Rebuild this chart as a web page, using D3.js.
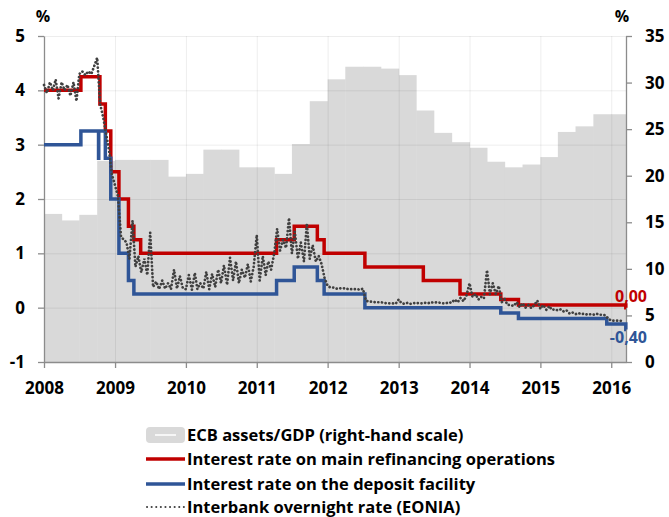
<!DOCTYPE html>
<html>
<head>
<meta charset="utf-8">
<script src="https://cdn.jsdelivr.net/npm/d3@7/dist/d3.min.js"></script>
<style>
    body { margin: 0; background: #fff; }
    svg text { font-family: "Open Sans", Lato, sans-serif; font-weight: bold; fill: #000; }
</style>
</head>
<body>
<div class="chart"></div>
<script>
// ECB assets / GDP, quarterly, 2008Q1 .. 2016Q1 (right-hand scale, %)
var assetQuarters = ["2008-01-01", "2008-04-01", "2008-07-01", "2008-10-01",
    "2009-01-01", "2009-04-01", "2009-07-01", "2009-10-01",
    "2010-01-01", "2010-04-01", "2010-07-01", "2010-10-01",
    "2011-01-01", "2011-04-01", "2011-07-01", "2011-10-01",
    "2012-01-01", "2012-04-01", "2012-07-01", "2012-10-01",
    "2013-01-01", "2013-04-01", "2013-07-01", "2013-10-01",
    "2014-01-01", "2014-04-01", "2014-07-01", "2014-10-01",
    "2015-01-01", "2015-04-01", "2015-07-01", "2015-10-01",
    "2016-01-01"];
var assetValues = [15.9, 15.2, 15.8, 21.6,
    21.7, 21.7, 21.7, 19.9,
    20.2, 22.8, 22.8, 20.9,
    20.9, 20.2, 23.4, 28.0,
    30.35, 31.7, 31.7, 31.5,
    30.8, 27.0, 24.6, 23.6,
    23.0, 21.5, 20.9, 21.2,
    22.0, 24.7, 25.3, 26.6,
    26.6];

// main refinancing operations rate, change dates
var mroDates = ["2008-01-01", "2008-07-09", "2008-10-15", "2008-11-12", "2008-12-10",
    "2009-01-21", "2009-03-11", "2009-04-08", "2009-05-13", "2011-04-13", "2011-07-13",
    "2011-11-09", "2011-12-14", "2012-07-11", "2013-05-08", "2013-11-13", "2014-06-11",
    "2014-09-10", "2016-03-16"];
var mroValues = [4.00, 4.25, 3.75, 3.25, 2.50, 2.00, 1.50, 1.25, 1.00, 1.25, 1.50,
    1.25, 1.00, 0.75, 0.50, 0.25, 0.15, 0.05, 0.00];

// deposit facility rate, change dates
var dfDates = ["2008-01-01", "2008-07-09", "2008-10-08", "2008-10-09", "2008-11-12",
    "2008-12-10", "2009-01-21", "2009-03-11", "2009-04-08", "2011-04-13", "2011-07-13",
    "2011-11-09", "2011-12-14", "2012-07-11", "2014-06-11", "2014-09-10", "2015-12-09",
    "2016-03-16"];
var dfValues = [3.00, 3.25, 2.75, 3.25, 2.75, 2.00, 1.00, 0.50, 0.25, 0.50, 0.75,
    0.50, 0.25, 0.00, -0.10, -0.20, -0.30, -0.40];

// EONIA, read twice a month (1st and 16th) from 2008-01-01
var eoniaValues = [
    4.10, 3.95, 4.15, 4.00, 4.20, 3.85, 4.15, 4.00, 4.10, 3.90, 4.15, 3.80,
    4.30, 4.35, 4.28, 4.35, 4.30, 4.45, 4.60, 3.75, 3.50, 3.20, 2.90, 2.45,
    2.25, 2.05, 1.30, 1.25, 1.20, 0.90, 1.60, 0.75, 0.95, 0.65, 0.90, 0.60,
    1.38, 0.38, 0.48, 0.34, 0.50, 0.35, 0.45, 0.34, 0.70, 0.35, 0.58, 0.36,
    0.34, 0.60, 0.33, 0.64, 0.34, 0.45, 0.35, 0.66, 0.34, 0.62, 0.38, 0.70,
    0.45, 0.78, 0.42, 0.92, 0.50, 0.85, 0.45, 0.70, 0.55, 0.80, 0.48, 0.75,
    1.34, 0.50, 0.95, 0.60, 0.85, 0.70, 1.00, 1.45, 1.05, 1.25, 1.10, 1.65,
    1.00, 1.40, 0.90, 1.20, 0.85, 1.55, 0.90, 1.15, 0.85, 0.95, 0.80, 0.55,
    0.40, 0.37, 0.37, 0.35, 0.36, 0.35, 0.36, 0.34, 0.34, 0.34, 0.34, 0.33,
    0.35, 0.13, 0.11, 0.11, 0.10, 0.10, 0.10, 0.09, 0.08, 0.08, 0.08, 0.07,
    0.15, 0.08, 0.07, 0.09, 0.07, 0.08, 0.09, 0.08, 0.08, 0.09, 0.08, 0.10,
    0.09, 0.10, 0.09, 0.08, 0.08, 0.10, 0.09, 0.15, 0.10, 0.18, 0.12, 0.22,
    0.45, 0.20, 0.25, 0.15, 0.20, 0.17, 0.69, 0.25, 0.45, 0.25, 0.40, 0.10,
    0.15, 0.05, 0.05, 0.03, 0.10, 0.01, 0.08, 0.00, 0.05, -0.01, 0.05, 0.13,
    -0.02, 0.05, -0.04, 0.03, -0.04, -0.03, -0.05, -0.03, -0.07, -0.05, -0.11, -0.09,
    -0.12, -0.10, -0.12, -0.11, -0.13, -0.12, -0.13, -0.11, -0.13, -0.13, -0.14, -0.20,
    -0.24, -0.24, -0.24, -0.24, -0.25];

var leftTicks = [-1, 0, 1, 2, 3, 4, 5];
var rightTicks = [0, 5, 10, 15, 20, 25, 30, 35];
var yearTicks = [2008, 2009, 2010, 2011, 2012, 2013, 2014, 2015, 2016];

var legendLabels = ["ECB assets/GDP (right-hand scale)",
    "Interest rate on main refinancing operations",
    "Interest rate on the deposit facility",
    "Interbank overnight rate (EONIA)"];

// ==================================

var parse = d3.timeParse("%Y-%m-%d");
var startDate = parse("2008-01-01");
var endDate = parse("2016-03-17");

var w = 669;
var h = 517;
var plotLeft = 44, plotRight = 626, plotTop = 36, plotBottom = 362;

// plain hyphen and decimal comma, as in the original
var fmtNum = function(v, digits) {
    return v.toFixed(digits).replace(".", ",");
};

var svg = d3.select(".chart")
    .append("svg")
    .attr("width", w)
    .attr("height", h);

var x = d3.scaleTime().domain([startDate, endDate]).range([plotLeft, plotRight]);
var y = d3.scaleLinear().domain([-1, 5]).range([plotBottom, plotTop]);
var y2 = d3.scaleLinear().domain([0, 35]).range([plotBottom, plotTop]);

// bars, each quarter runs up to the next one (or the end of the axis)
var bars = assetValues.map(function(v, i) {
    var d0 = parse(assetQuarters[i]);
    var d1 = i < assetQuarters.length - 1 ? parse(assetQuarters[i + 1]) : endDate;
    return { start: d0, end: d1 > endDate ? endDate : d1, value: v };
});

svg.append("g")
    .selectAll("rect")
    .data(bars)
    .enter()
    .append("rect")
    .attr("x", function(d) { return x(d.start); })
    .attr("width", function(d) { return x(d.end) - x(d.start) + 0.5; })
    .attr("y", function(d) { return y2(d.value); })
    .attr("height", function(d) { return y2(0) - y2(d.value); })
    .attr("fill", "#d9d9d9");

// grid
var yearDates = yearTicks.map(function(yr) { return new Date(yr, 0, 1); });

svg.append("g")
    .attr("transform", "translate(" + plotLeft + ",0)")
    .call(d3.axisLeft(y).tickValues(leftTicks).tickSize(-(plotRight - plotLeft)).tickFormat(""))
    .call(function(g) {
        g.select(".domain").remove();
        g.selectAll("line").attr("stroke", "#000").attr("stroke-opacity", 0.07);
    });

svg.append("g")
    .attr("transform", "translate(0," + plotBottom + ")")
    .call(d3.axisBottom(x).tickValues(yearDates).tickSize(-(plotBottom - plotTop)).tickFormat(""))
    .call(function(g) {
        g.select(".domain").remove();
        g.selectAll("line").attr("stroke", "#000").attr("stroke-opacity", 0.07);
    });

// axes
var styleAxis = function(g) {
    g.select(".domain").attr("stroke", "#8c8c8c").attr("stroke-width", 1.3);
    g.selectAll(".tick line").attr("stroke", "#8c8c8c").attr("stroke-width", 1.3);
    g.selectAll("text").attr("font-size", 17).attr("font-family", "'Open Sans', sans-serif")
        .attr("font-weight", "bold").attr("fill", "#000");
};

svg.append("g")
    .attr("transform", "translate(" + plotLeft + ",0)")
    .call(d3.axisLeft(y).tickValues(leftTicks).tickSize(6).tickSizeOuter(0).tickPadding(13)
        .tickFormat(function(d) { return fmtNum(d, 0); }))
    .call(styleAxis);

svg.append("g")
    .attr("transform", "translate(" + plotRight + ",0)")
    .call(d3.axisRight(y2).tickValues(rightTicks).tickSize(6).tickSizeOuter(0).tickPadding(13)
        .tickFormat(function(d) { return fmtNum(d, 0); }))
    .call(styleAxis);

svg.append("g")
    .attr("transform", "translate(0," + plotBottom + ")")
    .call(d3.axisBottom(x).tickValues(yearDates).tickSize(6).tickSizeOuter(0).tickPadding(14)
        .tickFormat(d3.timeFormat("%Y")))
    .call(styleAxis);

svg.append("text").attr("x", 43).attr("y", 22).attr("text-anchor", "middle")
    .attr("font-size", 16).text("%");
svg.append("text").attr("x", 622).attr("y", 22).attr("text-anchor", "middle")
    .attr("font-size", 16).text("%");

// policy rates
var stepPoints = function(dates, values) {
    var pts = dates.map(function(d, i) { return { date: parse(d), value: values[i] }; });
    pts.push({ date: endDate, value: values[values.length - 1] });
    return pts;
};

var stepLine = d3.line()
    .x(function(d) { return x(d.date); })
    .y(function(d) { return y(d.value); })
    .curve(d3.curveStepAfter);

svg.append("path")
    .datum(stepPoints(mroDates, mroValues))
    .attr("d", stepLine)
    .attr("fill", "none")
    .attr("stroke", "#c00000")
    .attr("stroke-width", 3.5);

svg.append("path")
    .datum(stepPoints(dfDates, dfValues))
    .attr("d", stepLine)
    .attr("fill", "none")
    .attr("stroke", "#2f5597")
    .attr("stroke-width", 3.5);

// EONIA
var eonia = eoniaValues.map(function(v, i) {
    var d = d3.timeMonth.offset(startDate, Math.floor(i / 2));
    if (i % 2 === 1) {
        d = d3.timeDay.offset(d, 15);
    }
    return { date: d, value: v };
});

svg.append("path")
    .datum(eonia)
    .attr("d", d3.line()
        .x(function(d) { return x(d.date); })
        .y(function(d) { return y(d.value); }))
    .attr("fill", "none")
    .attr("stroke", "#404040")
    .attr("stroke-width", 2.7)
    .attr("stroke-linecap", "round")
    .attr("stroke-dasharray", "0.1,3.6");

// end labels
var lastMro = mroValues[mroValues.length - 1];
var lastDf = dfValues[dfValues.length - 1];

svg.append("text").attr("x", 647).attr("y", y(lastMro) - 6)
    .attr("text-anchor", "end").attr("font-size", 16).style("fill", "#c00000")
    .text(fmtNum(lastMro, 2));
svg.append("text").attr("x", 647).attr("y", y(lastDf) + 14)
    .attr("text-anchor", "end").attr("font-size", 16).style("fill", "#2f5597")
    .text(fmtNum(lastDf, 2));

// legend
var legend = svg.append("g").attr("transform", "translate(146,435)");
var rows = legend.selectAll("g")
    .data(legendLabels)
    .enter()
    .append("g")
    .attr("transform", function(d, i) { return "translate(0," + [0, 24, 49, 72][i] + ")"; });

rows.append("text")
    .attr("x", 41)
    .attr("dy", "0.36em")
    .attr("font-size", 16.5)
    .text(function(d) { return d; });

legend.append("rect").attr("x", 0).attr("y", -8).attr("width", 39).attr("height", 16)
    .attr("rx", 4).attr("fill", "#d9d9d9");
legend.append("line").attr("x1", 9).attr("x2", 30).attr("y1", 0).attr("y2", 0)
    .attr("stroke", "#fff").attr("stroke-width", 1.5);
legend.append("line").attr("x1", 0).attr("x2", 39).attr("y1", 24).attr("y2", 24)
    .attr("stroke", "#c00000").attr("stroke-width", 3.5);
legend.append("line").attr("x1", 0).attr("x2", 39).attr("y1", 49).attr("y2", 49)
    .attr("stroke", "#2f5597").attr("stroke-width", 3.5);
legend.append("line").attr("x1", 1).attr("x2", 38).attr("y1", 72).attr("y2", 72)
    .attr("stroke", "#404040").attr("stroke-width", 2).attr("stroke-linecap", "round")
    .attr("stroke-dasharray", "0.1,4.5");
</script>
</body>
</html>
